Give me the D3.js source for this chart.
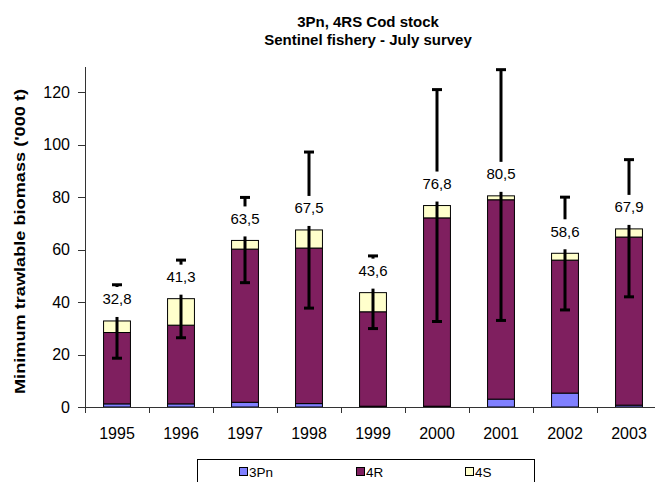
<!doctype html>
<html lang="en">
<head>
<meta charset="UTF-8">
<script src="https://cdn.jsdelivr.net/npm/d3@7"></script>
<style>
  body { margin: 0; background: #fff; }
  svg { font-family: Arial, "Liberation Sans", sans-serif; }
  .axis path, .axis line { stroke: #333; shape-rendering: crispEdges; }
  .axis text { fill: #000; font-size: 16px; }
</style>
</head>
<body>
<svg id="chart" width="655" height="482"></svg>
<script>
// values ('000 t)
let years = ["1995", "1996", "1997", "1998", "1999", "2000", "2001", "2002", "2003"];
let pn3 = [1.2, 1.2, 1.8, 1.3, 0.3, 0.3, 3.0, 5.3, 0.7];
let r4  = [27.2, 30.0, 58.4, 59.3, 36.0, 71.8, 76.0, 50.7, 64.1];
let s4  = [4.4, 10.1, 3.3, 6.9, 7.3, 4.7, 1.5, 2.6, 3.1];
let totals = [32.8, 41.3, 63.5, 67.5, 43.6, 76.8, 80.5, 58.6, 67.9];
let lower = [18.6, 26.4, 47.4, 37.7, 29.9, 32.6, 33.0, 37.0, 42.0];
let upper = [46.6, 56.0, 79.9, 97.2, 57.6, 121.0, 128.6, 80.0, 94.3];
let yTicks = [0, 20, 40, 60, 80, 100, 120];
let seriesNames = ["3Pn", "4R", "4S"];
let seriesColors = ["#8080ff", "#7f1f5f", "#ffffcc"];

let svg = d3.select("#chart");
let plotL = 85, plotR = 661, plotT = 66, plotB = 407;

let x = d3.scaleBand().domain(years).range([plotL, plotR]).padding(0);
let y = d3.scaleLinear().domain([0, 130]).range([plotB, plotT]);
let barW = x.bandwidth() * 0.42;

// table for the stack
let rows = years.map(function (yr, i) {
  return { year: yr, "3Pn": pn3[i], "4R": r4[i], "4S": s4[i] };
});
let stack = d3.stack().keys(seriesNames)(rows);
let color = d3.scaleOrdinal().domain(seriesNames).range(seriesColors);

// titles
svg.append("text").attr("x", 368).attr("y", 26.5)
  .attr("text-anchor", "middle").style("font-size", "15px").style("font-weight", "bold")
  .text("3Pn, 4RS Cod stock");
svg.append("text").attr("x", 368).attr("y", 44.5)
  .attr("text-anchor", "middle").style("font-size", "15px").style("font-weight", "bold")
  .text("Sentinel fishery - July survey");

// y title
svg.append("text")
  .attr("transform", "translate(25," + ((plotB + plotT) / 2 + 5) + ") rotate(-90)")
  .attr("text-anchor", "middle").style("font-size", "15px").style("font-weight", "bold")
  .attr("textLength", 305).attr("lengthAdjust", "spacingAndGlyphs")
  .text("Minimum trawlable biomass ('000 t)");

// bars
svg.append("g").selectAll("g")
  .data(stack).enter().append("g")
  .attr("fill", function (d) { return color(d.key); })
  .selectAll("rect")
  .data(function (d) { return d; }).enter().append("rect")
  .attr("x", function (d) { return x(d.data.year) + (x.bandwidth() - barW) / 2; })
  .attr("y", function (d) { return y(d[1]); })
  .attr("width", barW)
  .attr("height", function (d) { return y(d[0]) - y(d[1]); })
  .attr("stroke", "#000").attr("stroke-width", 1);

// error bars
let err = svg.append("g").attr("stroke", "#000").attr("stroke-width", 3);
years.forEach(function (yr, i) {
  let cx = x(yr) + x.bandwidth() / 2;
  err.append("line").attr("x1", cx).attr("x2", cx)
    .attr("y1", y(lower[i])).attr("y2", y(upper[i]));
  err.append("line").attr("x1", cx - 5).attr("x2", cx + 5)
    .attr("y1", y(lower[i])).attr("y2", y(lower[i]));
  err.append("line").attr("x1", cx - 5).attr("x2", cx + 5)
    .attr("y1", y(upper[i])).attr("y2", y(upper[i]));
});

// value labels with white box (hides the error bar behind)
let lab = svg.append("g");
years.forEach(function (yr, i) {
  let cx = x(yr) + x.bandwidth() / 2;
  let t = y(totals[i]);
  lab.append("rect").attr("x", cx - 20).attr("y", t - 34)
    .attr("width", 40).attr("height", 30).attr("fill", "#fff");
  lab.append("text").attr("x", cx).attr("y", t - 16.5)
    .attr("text-anchor", "middle").style("font-size", "15px")
    .text(String(totals[i]).replace(".", ","));
});

// y axis
svg.append("g").attr("class", "axis")
  .attr("transform", "translate(" + plotL + ",0)")
  .call(d3.axisLeft(y).tickValues(yTicks).tickSize(7).tickPadding(8).tickSizeOuter(0));

// x axis
let xa = svg.append("g").attr("class", "axis")
  .attr("transform", "translate(0," + plotB + ")")
  .call(d3.axisBottom(x).tickSize(0).tickPadding(18).tickSizeOuter(0));
xa.select(".domain").attr("d", "M" + plotL + ",0.5H" + plotR);
xa.selectAll(".tick text").attr("dy", "0.71em").attr("y", 21);
xa.selectAll(".bound").data(years).enter().append("line")
  .attr("x1", function (d) { return x(d); }).attr("x2", function (d) { return x(d); })
  .attr("y1", 0).attr("y2", 6);

// legend
let lg = svg.append("g");
lg.append("rect").attr("x", 197.5).attr("y", 459.5).attr("width", 337).attr("height", 40)
  .attr("fill", "#fff").attr("stroke", "#000").attr("stroke-width", 1);
let legX = [239, 356, 465];
seriesNames.forEach(function (name, i) {
  lg.append("rect").attr("x", legX[i] + 0.5).attr("y", 467.5).attr("width", 8).attr("height", 8)
    .attr("fill", seriesColors[i]).attr("stroke", "#000").attr("stroke-width", 1);
  lg.append("text").attr("x", legX[i] + 10).attr("y", 477)
    .style("font-size", "13.5px").text(name);
});
</script>
</body>
</html>
